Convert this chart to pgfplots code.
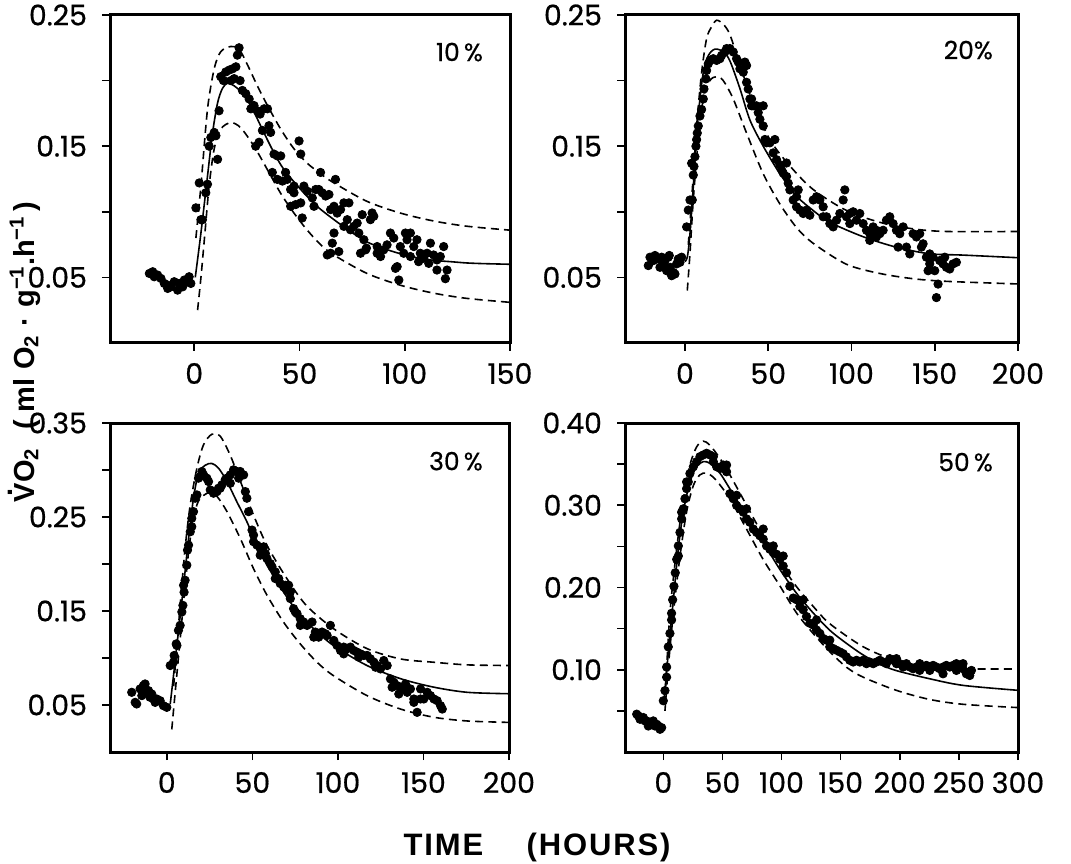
\documentclass[border=0pt]{standalone}
\usepackage{pgfplots}
\pgfplotsset{compat=1.18}
\usepackage{fontspec}
\setmainfont{Poppins}
\newfontfamily\tickfam{Poppins}[FakeBold=0.6]
\newfontfamily\labfont{Liberation Sans}
\newcommand\tickfont{\tickfam\fontsize{14.2}{14.2}\selectfont}
\newcommand\pctfont{\tickfam\fontsize{12.5}{12.5}\selectfont}
\pgfplotsset{
  panel/.style={
    scale only axis, anchor=south west,
    ymin=0,
    axis line style={line width=1.5pt},
    tick style={black, line width=0.8pt},
    major tick length=4pt, minor tick length=4pt,
    tick align=outside, xtick pos=bottom, ytick pos=left,
    ticklabel style={font=\tickfont},
    xticklabel style={yshift=-2.5pt},
    yticklabel style={xshift=-4pt},
    clip=false,
  },
  fit/.style={black, line width=0.8pt, smooth, no marks},
  band/.style={black, line width=0.8pt, smooth, no marks, dash pattern=on 4pt off 2.6pt},
  pts/.style={only marks, mark=*, mark size=2.1pt, black, mark options={fill=black}},
}
\begin{document}
\begin{tikzpicture}
\useasboundingbox (0,0) rectangle (535.5pt,431.5pt);

% ---------------- 10 % ----------------
\begin{axis}[panel, at={(55pt,260pt)}, width=200pt, height=164pt,
  xmin=-40, xmax=150, ymax=0.25,
  xtick={0,50,100,150}, xticklabels={0,50,100,150},
  ytick={0.05,0.15,0.25}, yticklabels={0.05,0.15,0.25}, minor ytick={0.1,0.2}]
\addplot[band] coordinates {(0.8,0.08)(3.2,0.12)(6.3,0.178)(9.5,0.209)(12.6,0.222)(17.4,0.226)(21.3,0.224)(25.3,0.212)(30,0.196)(34.8,0.181)(41.1,0.163)(47.4,0.148)(53.7,0.137)(60,0.129)(66.4,0.122)(82,0.108)(98,0.099)(113.7,0.093)(129.5,0.089)(150,0.086)};
\addplot[band] coordinates {(1.6,0.025)(3.2,0.05)(5.1,0.084)(7.1,0.12)(9.5,0.148)(12.6,0.163)(17.4,0.168)(22.1,0.164)(28.4,0.150)(34.8,0.132)(41.1,0.114)(47.4,0.099)(53.7,0.086)(60,0.075)(66.4,0.067)(82.1,0.053)(98,0.044)(113.7,0.038)(129.5,0.034)(150,0.031)};
\addplot[fit] coordinates {(0.5,0.05)(3.2,0.084)(6.3,0.127)(8.7,0.160)(11.1,0.183)(13.4,0.194)(15.8,0.198)(19,0.196)(23.7,0.189)(28.4,0.176)(33.2,0.160)(37.9,0.145)(42.7,0.132)(50.6,0.117)(58.5,0.104)(66.4,0.094)(74.2,0.085)(82.1,0.077)(90,0.072)(98,0.068)(105.8,0.065)(113.7,0.063)(121.6,0.062)(129.5,0.061)(137.4,0.0605)(150,0.060)};
\addplot[pts] table {
x y
-21.3 0.053
-19.0 0.0505
-19.7 0.0543
-17.4 0.0518
-15.8 0.0492
-14.2 0.0454
-12.6 0.0416
-11.1 0.0428
-9.5 0.0467
-7.9 0.0403
-7.1 0.0454
-5.5 0.0428
-4.7 0.048
-3.2 0.0467
-2.4 0.0505
-1.6 0.0454
-12.6 0.0441
0.8 0.103
2.4 0.122
3.2 0.094
3.9 0.094
5.5 0.1145
6.3 0.121
7.1 0.150
7.9 0.1567
9.5 0.1605
10.3 0.158
11.1 0.140
11.8 0.177
12.6 0.203
13.9 0.200
15.0 0.2066
16.6 0.208
18.2 0.209
19.8 0.2105
20.5 0.2194
21.3 0.225
17.4 0.200
19.0 0.2015
21.8 0.200
22.9 0.1925
24.5 0.190
26.1 0.186
26.9 0.1785
28.4 0.181
30.0 0.177
31.3 0.1745
33.2 0.1785
34.8 0.1785
32.4 0.162
30.8 0.153
29.2 0.150
35.5 0.1656
36.3 0.1605
37.9 0.144
39.5 0.1426
41.1 0.1426
37.1 0.130
39.5 0.1247
41.9 0.1234
43.4 0.130
44.2 0.1247
45.8 0.117
47.4 0.1145
49.8 0.154
50.6 0.144
48.2 0.1055
51.3 0.0953
52.1 0.1196
53.7 0.1157
56.1 0.1106
57.7 0.117
56.9 0.1042
59.2 0.117
60.8 0.1145
60.0 0.130
62.4 0.112
64.0 0.1132
64.8 0.1017
66.4 0.1042
67.9 0.099
67.1 0.1247
69.5 0.1017
71.1 0.0889
72.7 0.094
73.5 0.1068
74.2 0.0863
75.8 0.0889
77.4 0.0914
78.2 0.0838
79.0 0.0684
80.6 0.0787
81.8 0.0723
83.7 0.094
85.3 0.0966
81.4 0.071
79.8 0.0978
84.5 0.0991
86.9 0.0735
88.5 0.0659
90.0 0.071
91.6 0.0748
93.2 0.0838
94.8 0.080
96.4 0.0582
97.9 0.0735
99.5 0.0684
101.1 0.0787
102.7 0.0838
104.3 0.0735
105.8 0.0787
107.4 0.0684
109.0 0.0646
110.6 0.0684
112.2 0.0761
113.7 0.0671
115.3 0.0633
116.9 0.0659
118.5 0.0735
120.1 0.0556
119.3 0.049
115.3 0.0556
97.2 0.048
95.6 0.0569
102.7 0.0659
106.6 0.062
108.2 0.0659
111.4 0.0607
100.3 0.0838
64.8 0.0684
65.6 0.0761
63.2 0.0671
68.7 0.0697
66.4 0.0838
71.1 0.1068
45.8 0.1042
50.6 0.1068
47.4 0.1196
86.9 0.0684
};
\node[anchor=east, font=\pctfont] at (rel axis cs:0.95,0.887) {10\,\%};
\end{axis}

% ---------------- 20 % ----------------
\begin{axis}[panel, at={(312.5pt,260pt)}, width=196.5pt, height=164pt,
  xmin=-36, xmax=200, ymax=0.25,
  xtick={0,50,100,150,200}, xticklabels={0,50,100,150,200},
  ytick={0.05,0.15,0.25}, yticklabels={0.05,0.15,0.25}, minor ytick={0.1,0.2}]
\addplot[band] coordinates {(2,0.075)(4,0.109)(7,0.165)(10,0.206)(13,0.232)(16,0.241)(19,0.246)(23,0.243)(27,0.235)(33,0.212)(41,0.183)(51,0.155)(63,0.135)(77,0.117)(97,0.101)(117,0.092)(137,0.087)(157,0.085)(200,0.085)};
\addplot[band] coordinates {(1.4,0.040)(3,0.068)(5,0.109)(8,0.155)(11,0.186)(15,0.200)(19,0.203)(23,0.200)(29,0.186)(37,0.160)(47,0.129)(57,0.106)(67,0.088)(77,0.076)(97,0.060)(117,0.053)(137,0.049)(157,0.047)(200,0.045)};
\addplot[fit] coordinates {(0,0.062)(1.5,0.066)(3,0.083)(5,0.119)(7,0.160)(9,0.186)(11,0.206)(14,0.219)(18,0.224)(23,0.222)(27,0.215)(33,0.194)(39,0.170)(47,0.150)(57,0.129)(67,0.112)(77,0.101)(87,0.092)(107,0.081)(127,0.073)(147,0.068)(167,0.067)(200,0.065)};
\addplot[pts] table {
x y
-22 0.059
-21 0.0654
-19 0.0628
-18 0.0667
-16 0.0641
-14 0.0654
-13 0.0603
-12 0.0628
-10 0.0654
-9 0.0577
-8 0.0513
-7 0.0538
-6 0.0526
-5 0.0603
-4 0.0641
-3 0.0615
-2 0.0654
-9.4 0.0667
-15 0.0577
-11 0.0551
1 0.0885
2 0.1013
3 0.109
4.4 0.109
5 0.128
5.4 0.1346
6 0.142
6.6 0.150
7.4 0.160
8 0.1654
9 0.173
10 0.178
11 0.186
11.4 0.1936
12.6 0.2013
13 0.2077
14 0.2128
15 0.2154
17 0.2167
19 0.2154
21 0.2167
22 0.2192
24 0.2218
25 0.2244
27 0.2244
29 0.2218
31 0.2167
32 0.2141
33 0.209
35 0.2064
37 0.1987
38 0.1936
39 0.186
40 0.1808
41 0.1808
43 0.1808
44 0.1756
45 0.1705
47 0.1654
48 0.1551
49 0.1526
51 0.1526
53 0.1449
55 0.1397
57 0.1359
58 0.132
59 0.1295
61 0.1269
62 0.1218
63 0.1167
65 0.109
67 0.1038
69 0.1013
71 0.0987
67 0.1115
68 0.1167
73 0.1013
75 0.0974
77 0.109
79 0.1115
81 0.109
83 0.1038
85 0.0962
87 0.091
89 0.0885
91 0.0936
93 0.0987
95 0.109
96 0.1167
97 0.0962
99 0.0987
101 0.100
103 0.0936
105 0.0987
107 0.091
109 0.0859
111 0.0833
113 0.0885
115 0.0808
117 0.0833
119 0.0859
121 0.0936
123 0.0962
125 0.091
127 0.0859
129 0.0833
131 0.0885
133 0.0731
135 0.0679
137 0.0833
139 0.0808
141 0.0833
143 0.0756
145 0.0654
147 0.0679
149 0.0654
150 0.0551
152 0.0449
151 0.0346
153 0.0628
155 0.0603
157 0.0577
159 0.0564
161 0.0603
163 0.0615
147 0.0603
146 0.0551
156 0.0654
142 0.0731
128 0.0731
111 0.0782
115 0.0859
99 0.091
83 0.0962
37 0.2115
36 0.2141
40 0.186
47 0.1808
54 0.1551
61 0.1372
7 0.155
4 0.137
};
\node[anchor=east, font=\pctfont] at (rel axis cs:0.954,0.893) {20\%};
\end{axis}

% ---------------- 30 % ----------------
\begin{axis}[panel, at={(55pt,55.5pt)}, width=199.5pt, height=164.5pt,
  xmin=-33.2, xmax=200, ymax=0.35,
  xtick={0,50,100,150,200}, xticklabels={0,50,100,150,200},
  ytick={0.05,0.15,0.25,0.35}, yticklabels={0.05,0.15,0.25,0.35}, minor ytick={0.1,0.2,0.3}]
\addplot[band] coordinates {(4,0.07)(7.8,0.156)(10.7,0.217)(13.7,0.263)(17.6,0.302)(21.5,0.327)(26.3,0.338)(31.2,0.336)(37,0.316)(43,0.288)(50.7,0.252)(58.5,0.22)(70,0.185)(81.5,0.156)(97.6,0.131)(117,0.11)(136.6,0.099)(156,0.0955)(175.6,0.0927)(200,0.092)};
\addplot[band] coordinates {(2.9,0.024)(4.9,0.0635)(7.8,0.12)(10.7,0.177)(13.7,0.227)(17.6,0.263)(21.5,0.273)(25.4,0.276)(29.3,0.272)(35.1,0.256)(43,0.227)(50.7,0.195)(58.5,0.167)(68.3,0.138)(78,0.115)(87.8,0.0955)(97.6,0.081)(117,0.06)(136.6,0.0457)(156,0.037)(175.6,0.033)(200,0.0315)};
\addplot[fit] coordinates {(2,0.051)(3.9,0.081)(6.8,0.128)(9.8,0.177)(12.7,0.227)(15.6,0.27)(18.5,0.296)(22.4,0.305)(26.3,0.307)(30.2,0.302)(35.1,0.288)(41,0.266)(46.8,0.245)(52.7,0.22)(58.5,0.199)(68.3,0.170)(78,0.145)(87.8,0.128)(97.6,0.113)(117,0.092)(136.6,0.078)(156,0.069)(175.6,0.0635)(200,0.062)};
\addplot[pts] table {
x y
-20.5 0.0635
-18.5 0.0528
-17.6 0.0511
-15.6 0.0671
-13.7 0.0706
-12.7 0.0724
-11.7 0.0635
-9.8 0.0582
-8.8 0.0617
-7.8 0.0564
-5.9 0.0564
-3.9 0.0546
-2.0 0.0493
0 0.0475
-14.6 0.06
-10.7 0.0653
-6.8 0.0528
2.0 0.092
3.9 0.0956
4.3 0.1027
5.5 0.115
6.8 0.1294
7.8 0.1347
8.8 0.149
9.4 0.156
10.1 0.170
10.7 0.1827
11.7 0.1988
12.1 0.2148
12.7 0.2201
13.7 0.2343
14.6 0.2397
15.6 0.2557
16.6 0.270
17.6 0.2735
18.5 0.2913
19.5 0.293
21.5 0.2948
23.4 0.2913
24.4 0.2877
25.4 0.2788
27.3 0.2753
29.3 0.277
31.2 0.2806
32.2 0.2842
34.1 0.2895
35.1 0.2913
37.1 0.2948
39.0 0.3002
41.0 0.2984
42.9 0.2984
44.9 0.2948
45.9 0.277
46.8 0.270
47.8 0.2557
49.8 0.2361
50.7 0.2308
52.7 0.2201
54.6 0.2166
56.6 0.2183
57.6 0.2112
58.5 0.2059
60.5 0.2005
61.5 0.197
63.4 0.1916
65.4 0.1845
66.3 0.1792
68.3 0.1756
69.3 0.1774
70.2 0.1721
71.2 0.1774
72.2 0.1632
74.1 0.1525
75.1 0.149
76.1 0.1472
78.0 0.1418
80.0 0.1383
82.0 0.1347
84.9 0.1383
86.8 0.1276
88.8 0.1222
90.7 0.1276
93.7 0.124
95.6 0.1347
97.6 0.1187
99.5 0.1133
101.5 0.108
103.4 0.1116
105.4 0.1098
107.3 0.1116
109.3 0.108
111.2 0.1062
113.2 0.1044
115.1 0.1027
117.1 0.1027
119.0 0.0991
121.0 0.0956
122.9 0.092
124.9 0.0884
126.8 0.0973
128.8 0.092
130.7 0.0778
132.7 0.0742
134.6 0.0706
136.6 0.0689
138.5 0.0671
140.5 0.0635
142.4 0.0671
144.4 0.0528
146.3 0.0422
148.3 0.0564
150.2 0.0564
152.2 0.0635
154.1 0.06
156.1 0.0564
158.0 0.0546
160.0 0.0493
161.0 0.0457
148.3 0.0671
135.6 0.0617
139.5 0.0724
131.7 0.0689
144.4 0.0564
112.2 0.1009
122.0 0.0902
103.4 0.1044
92.7 0.1258
85.9 0.1222
78.0 0.1347
72.2 0.1703
63.4 0.1845
54.6 0.2094
50.7 0.2237
42.0 0.2913
37.1 0.2859
30.2 0.2806
20.5 0.2984
14.6 0.2486
9.8 0.1774
5.9 0.1133
};
\node[anchor=east, font=\pctfont] at (rel axis cs:0.952,0.884) {30\,\%};
\end{axis}

% ---------------- 50 % ----------------
\begin{axis}[panel, at={(312.5pt,55.5pt)}, width=196.5pt, height=164.5pt,
  xmin=-32.4, xmax=300, ymax=0.40,
  xtick={0,50,100,150,200,250,300}, xticklabels={0,50,100,150,200,250,300},
  ytick={0.1,0.2,0.3,0.4}, yticklabels={0.10,0.20,0.30,0.40}, minor ytick={0.05,0.15,0.25,0.35}]
\addplot[band] coordinates {(2,0.08)(5.6,0.169)(11.3,0.247)(16.9,0.308)(22.5,0.349)(28.2,0.371)(33.8,0.378)(39.4,0.373)(47.9,0.357)(56.3,0.337)(70.4,0.30)(84.5,0.263)(98.6,0.23)(112.7,0.201)(126.8,0.177)(140.8,0.156)(169,0.128)(197,0.111)(225,0.103)(253.5,0.101)(300,0.101)};
\addplot[band] coordinates {(1.4,0.05)(4.2,0.103)(8.5,0.169)(14.1,0.238)(19.7,0.292)(25.4,0.324)(31,0.337)(36.6,0.339)(43.7,0.332)(56.3,0.308)(70.4,0.271)(84.5,0.234)(98.6,0.202)(112.7,0.169)(126.8,0.144)(140.8,0.122)(155,0.103)(169,0.091)(197,0.075)(225,0.064)(253.5,0.058)(300,0.054)};
\addplot[fit] coordinates {(0.8,0.066)(4.2,0.12)(8.5,0.185)(12.7,0.247)(16.9,0.292)(22.5,0.328)(28.2,0.347)(33.8,0.353)(39.4,0.351)(47.9,0.339)(56.3,0.320)(70.4,0.287)(84.5,0.255)(98.6,0.222)(112.7,0.193)(126.8,0.169)(140.8,0.148)(155,0.132)(169,0.118)(183,0.107)(197,0.099)(225.4,0.089)(253.5,0.081)(300,0.075)};
\addplot[pts] table {
x y
-22.5 0.046
-19.7 0.0398
-16.9 0.0419
-14.1 0.0378
-11.3 0.0357
-8.5 0.0378
-5.6 0.0337
-2.8 0.0276
-1.4 0.0296
-21.1 0.0439
-15.5 0.0378
-12.7 0.0316
-7.0 0.0316
-4.2 0.0316
0 0.0623
1.4 0.0746
2.8 0.091
4.2 0.1278
5.6 0.1442
7.0 0.1687
7.9 0.1851
9.0 0.2015
10.1 0.2179
11.3 0.2342
12.7 0.2506
14.1 0.267
15.5 0.2834
16.9 0.2957
18.3 0.3079
19.7 0.3202
21.1 0.3284
22.5 0.3386
25.4 0.3468
28.2 0.353
31.0 0.3591
33.8 0.3612
36.6 0.3632
39.4 0.3612
42.3 0.3591
45.1 0.3468
47.9 0.3448
50.7 0.3448
53.5 0.3407
56.3 0.3141
59.2 0.3079
62.0 0.2998
64.8 0.2957
67.6 0.2916
70.4 0.2834
73.2 0.2793
76.1 0.2711
78.9 0.267
81.7 0.2629
84.5 0.2588
87.3 0.2506
90.1 0.2465
93.0 0.2424
95.8 0.2404
98.6 0.2342
101.4 0.2261
104.2 0.2179
107.0 0.2015
109.9 0.1872
112.7 0.1851
115.5 0.177
118.3 0.1729
121.1 0.1647
123.9 0.1565
126.8 0.1544
129.6 0.1483
132.4 0.1442
135.2 0.1381
138.0 0.136
140.8 0.1278
143.7 0.1258
146.5 0.1237
149.3 0.1217
152.1 0.1196
154.9 0.1156
157.7 0.1115
160.6 0.1094
163.4 0.1115
166.2 0.1094
169.0 0.1115
171.8 0.1074
174.6 0.1094
177.5 0.1074
180.3 0.1094
183.1 0.1115
185.9 0.1094
188.7 0.1074
191.5 0.1135
194.4 0.1115
197.2 0.1135
200.0 0.1074
202.8 0.1033
205.6 0.1074
208.5 0.1033
211.3 0.1012
214.1 0.1033
216.9 0.0992
219.7 0.1033
222.5 0.1053
225.4 0.1033
228.2 0.1053
231.0 0.1033
233.8 0.1012
236.6 0.1033
239.4 0.1053
242.3 0.1033
245.1 0.1053
247.9 0.0992
250.7 0.1033
253.5 0.1012
256.3 0.0951
259.2 0.093
260.6 0.0992
216.9 0.1074
225.4 0.0992
236.6 0.0951
247.9 0.1074
253.5 0.1074
197.2 0.1074
140.8 0.136
129.6 0.1606
118.3 0.1851
101.4 0.2383
93.0 0.2506
84.5 0.2711
70.4 0.2957
62.0 0.3121
50.7 0.3489
53.5 0.3489
42.3 0.353
19.7 0.3284
15.5 0.2916
12.7 0.2383
7.0 0.1606
2.8 0.1033
};
\node[anchor=east, font=\pctfont] at (rel axis cs:0.954,0.881) {50\,\%};
\end{axis}

% axis titles
\node[rotate=90, inner sep=1pt, font=\labfont\bfseries\fontsize{14.5}{14.5}\selectfont] at (12.5pt,255.5pt)
  {\ooalign{V\cr\hidewidth\raisebox{0.74em}{.}\hidewidth\cr}O\textsubscript{2}\hspace{0.65em}(\hspace{0.25em}ml\hspace{0.3em}O\textsubscript{2}\hspace{0.3em}·\hspace{0.3em}g\textsuperscript{−1}.h\textsuperscript{−1}\hspace{0.15em})};
\node[font=\labfont\bfseries\fontsize{15.5}{15.5}\selectfont\addfontfeatures{LetterSpace=6}] at (268.5pt,8pt) {TIME\hspace{1.4em}(HOURS)};
\end{tikzpicture}
\end{document}
